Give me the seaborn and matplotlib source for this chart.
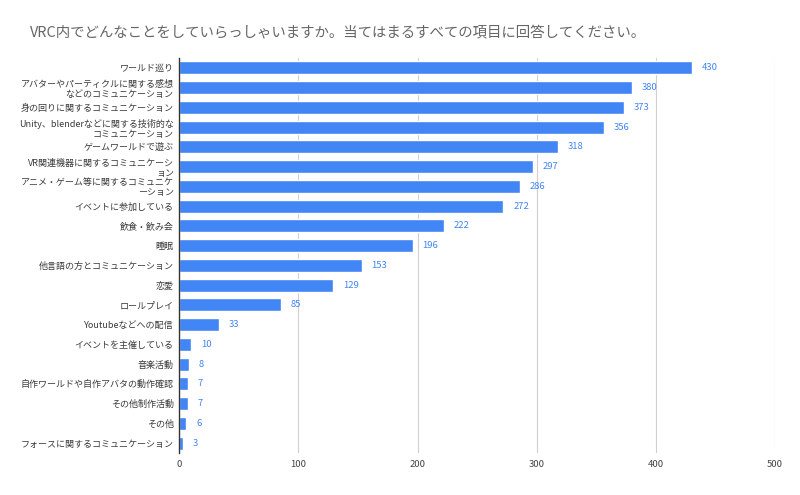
import matplotlib
matplotlib.use("Agg")
import matplotlib.pyplot as plt
import seaborn as sns
import pandas as pd

title = "VRC内でどんなことをしていらっしゃいますか。当てはまるすべての項目に回答してください。"
categories = [
    "ワールド巡り",
    "アバターやパーティクルに関する感想\nなどのコミュニケーション",
    "身の回りに関するコミュニケーション",
    "Unity、blenderなどに関する技術的な\nコミュニケーション",
    "ゲームワールドで遊ぶ",
    "VR関連機器に関するコミュニケーシ\nョン",
    "アニメ・ゲーム等に関するコミュニケ\nーション",
    "イベントに参加している",
    "飲食・飲み会",
    "睡眠",
    "他言語の方とコミュニケーション",
    "恋愛",
    "ロールプレイ",
    "Youtubeなどへの配信",
    "イベントを主催している",
    "音楽活動",
    "自作ワールドや自作アバタの動作確認",
    "その他制作活動",
    "その他",
    "フォースに関するコミュニケーション",
]
values = [430, 380, 373, 356, 318, 297, 286, 272, 222, 196, 153, 129, 85, 33, 10, 8, 7, 7, 6, 3]
xticks = [0, 100, 200, 300, 400, 500]

sns.set_theme(style="white")
plt.rcParams['font.family'] = ['Noto Sans CJK JP', 'DejaVu Sans']

df = pd.DataFrame({"cat": categories, "val": values})
fig = plt.figure(figsize=(8, 4.95), dpi=100)
ax = fig.add_axes([0.224, 0.085, 0.745, 0.798])
sns.barplot(data=df, x="val", y="cat", color="#4285F4", saturation=1, width=0.66, ax=ax, zorder=3)

ax.set_xlim(0, 500)
ax.set_xticks(xticks)
ax.set_xticklabels([str(t) for t in xticks], fontsize=6.8, color="#444444")
ax.tick_params(axis='y', labelsize=6.5, labelcolor="#3a3a3a", length=0, pad=4)
ax.tick_params(axis='x', length=0, pad=5)
for lbl in ax.get_yticklabels():
    lbl.set_linespacing(1.15)
ax.set_xlabel("")
ax.set_ylabel("")
ax.grid(axis='x', color="#d0d0d0", linewidth=0.8, zorder=0)
for s in ["top", "right", "bottom"]:
    ax.spines[s].set_visible(False)
ax.spines["left"].set_color("#333333")
ax.spines["left"].set_linewidth(1.0)
ax.spines["left"].set_zorder(4)

for i, v in enumerate(values):
    ax.annotate(str(v), xy=(v, i), xytext=(7, 0), textcoords="offset points",
                va="center", ha="left", fontsize=6.8, color="#4285F4")

fig.text(0.037, 0.935, title, fontsize=10.4, color="#666666", ha="left", va="center")
fig.savefig("out.png", dpi=100)
